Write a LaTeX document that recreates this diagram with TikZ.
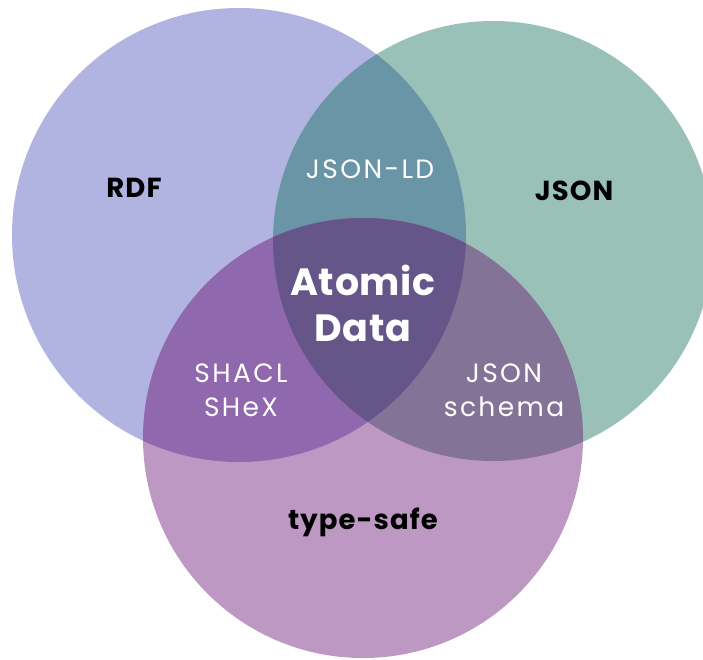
\documentclass[tikz,border=0pt]{standalone}
\usepackage{fontspec}
\setmainfont{Poppins}
\newfontfamily\labfont{Poppins}[LetterSpace=4]
\newfontfamily\subfont{Poppins}[LetterSpace=9]
\newfontfamily\corefont{Poppins}[LetterSpace=2]
\definecolor{rdfc}{HTML}{B1B3E1}
\definecolor{jsonc}{HTML}{9AC1B7}
\definecolor{typec}{HTML}{BD98C2}
\definecolor{rjc}{HTML}{6A95A6}
\definecolor{rtc}{HTML}{9068AD}
\definecolor{jtc}{HTML}{837497}
\definecolor{allc}{HTML}{655589}
\begin{document}
\begin{tikzpicture}[x=1pt,y=-1pt,
  lab/.style={font=\labfont\bfseries\fontsize{27.5}{33}\selectfont, text=black},
  sub/.style={font=\subfont\fontsize{26.5}{34}\selectfont, text=white, align=center},
  core/.style={font=\corefont\bfseries\fontsize{38}{46}\selectfont, text=white, align=center}]
\useasboundingbox (0,0) rectangle (703,659);
\clip (0,0) rectangle (703,659);
\def\rdfcirc{(239,235) circle (227)}
\def\jsoncirc{(493,241) circle (220)}
\def\typecirc{(363,438) circle (220)}
\fill[rdfc] \rdfcirc;
\fill[jsonc] \jsoncirc;
\fill[typec] \typecirc;
\begin{scope}\clip \rdfcirc; \fill[rjc] \jsoncirc; \end{scope}
\begin{scope}\clip \rdfcirc; \fill[rtc] \typecirc; \end{scope}
\begin{scope}\clip \jsoncirc; \fill[jtc] \typecirc; \end{scope}
\begin{scope}\clip \rdfcirc; \clip \jsoncirc; \fill[allc] \typecirc; \end{scope}
\node[lab] (rdf) at (134,188) {RDF};
\node[lab] (json) at (574,191) {JSON};
\node[lab] (type) at (363,522) {type-safe};
\node[sub] (jsonld) at (370,169) {JSON-LD};
\node[core] (atomic) at (363,303) {Atomic\\Data};
\node[sub] (shacl) at (241,390) {SHACL\\SHeX};
\node[sub] (schema) at (504,390) {JSON\\schema};
\end{tikzpicture}
\end{document}
